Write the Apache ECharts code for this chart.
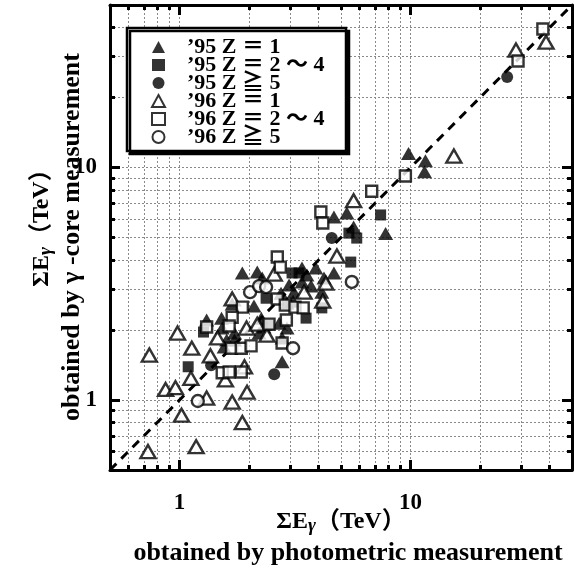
<!DOCTYPE html>
<html>
<head>
<meta charset="utf-8">
<script src="https://cdn.jsdelivr.net/npm/echarts@6/dist/echarts.min.js"></script>
<style>
html,body{margin:0;padding:0;background:#fff;}
#chart{width:574px;height:574px;}
</style>
</head>
<body>
<div id="chart"></div>
<script>
// grid / tick positions (log axes, both 0.5 .. 50)
const gridTicks = [0.6, 0.7, 0.8, 0.9, 1, 2, 3, 4, 5, 6, 7, 8, 9, 10, 20, 30, 40];
const majorTicks = [1, 10];
const tickLabels = [1, 10];
const diagonal = [[0.5, 0.5], [50, 50]];

// '95 Z = 1  (filled triangle)
const tri95 = [
  [9.8, 11.5], [11.6, 10.7], [11.5, 9.6], [7.8, 5.2], [4.66, 6.13], [5.3, 6.37], [5.67, 5.55],
  [1.87, 3.52], [2.17, 3.55], [2.28, 3.35], [3.89, 3.7], [4.66, 3.52], [2.98, 3.12], [3.13, 2.91],
  [3.39, 3.22], [3.71, 3.09], [2.75, 2.88], [4.22, 3.35], [4.13, 2.91], [1.69, 2.59], [2.1, 2.54],
  [1.52, 2.25], [1.31, 2.21], [1.53, 2.04], [1.73, 1.94], [2.26, 2.25], [2.32, 2.06], [2.21, 1.94],
  [2.7, 2.14], [2.92, 2.04], [1.6, 1.81], [1.73, 1.81], [1.56, 1.69], [2.78, 1.46], [3.39, 3.7],
  [3.56, 3.45], [2.92, 2.61], [3.1, 2.66], [2.78, 1.85]
];
// '95 Z = 2~4  (filled square)
const sq95 = [
  [7.42, 6.25], [5.41, 5.22], [5.85, 4.97], [5.51, 3.92], [3.07, 3.52], [3.29, 3.52], [2.37, 2.74],
  [3.53, 2.25], [4.13, 2.49], [1.27, 1.96], [1.09, 1.39], [2.44, 2.1]
];
// '95 Z >= 5  (filled circle)
const circ95 = [[26.2, 24.5], [4.56, 4.97], [1.37, 1.41], [2.57, 1.29]];
// '96 Z = 1  (open triangle)
const tri96 = [
  [38.6, 34.6], [28.6, 32.0], [15.4, 11.2], [5.67, 7.2], [4.8, 4.16], [2.57, 3.48], [4.3, 3.18],
  [3.46, 2.91], [4.17, 2.66], [1.69, 2.72], [1.95, 2.04], [2.17, 2.12], [2.39, 1.9], [0.98, 1.94],
  [1.46, 1.85], [1.13, 1.67], [0.74, 1.56], [1.36, 1.55], [1.12, 1.24], [0.87, 1.11], [0.96, 1.13],
  [1.31, 1.02], [1.69, 0.98], [1.96, 1.08], [1.87, 0.8], [1.02, 0.86], [1.18, 0.63], [0.73, 0.6],
  [1.91, 1.39], [1.58, 1.22]
];
// '96 Z = 2~4  (open square)
const sq96 = [
  [37.4, 39.4], [29.2, 28.7], [9.5, 9.2], [6.79, 7.9], [4.09, 6.44], [4.17, 5.77], [2.65, 4.12],
  [2.73, 3.73], [2.65, 2.72], [2.87, 2.56], [3.16, 2.51], [3.43, 2.49], [1.87, 2.51], [1.69, 2.27],
  [1.31, 2.06], [1.64, 2.08], [2.44, 2.12], [2.9, 2.21], [1.68, 1.67], [1.85, 1.67], [2.04, 1.71],
  [2.78, 1.76], [1.53, 1.31], [1.64, 1.32], [1.85, 1.32]
];
// '96 Z >= 5  (open circle)
const circ96 = [[2.02, 2.91], [2.21, 3.09], [2.37, 3.06], [5.57, 3.22], [3.1, 1.67], [1.2, 0.99]];

const seriesNames = ['’95 Z ＝ 1', '’95 Z ＝ 2 ～ 4', '’95 Z ≧ 5', '’96 Z ＝ 1', '’96 Z ＝ 2 ～ 4', '’96 Z ≧ 5'];

const serif = "'Liberation Serif', 'Noto Sans CJK JP', serif";

function scatter(name, data, symbol, size, filled) {
  return {
    name: name,
    type: 'scatter',
    data: data,
    symbol: symbol,
    symbolSize: size,
    itemStyle: filled ? { color: '#000' } : { color: '#fff', borderColor: '#000', borderWidth: 2.4 },
    emphasis: { disabled: true },
    z: 4
  };
}

function logAxis(kind, position, ticks, len, withLabels, withGrid, showLine) {
  const ax = {
    type: 'log',
    logBase: 10,
    min: 0.5,
    max: 50,
    position: position,
    axisLine: { show: showLine, onZero: false, lineStyle: { color: '#000', width: 3 } },
    axisTick: { show: true, inside: true, length: len, customValues: ticks, lineStyle: { color: '#000', width: 3 } },
    axisLabel: {
      show: withLabels,
      customValues: tickLabels,
      margin: kind === 'x' ? 22 : 13,
      color: '#000',
      fontFamily: serif,
      fontWeight: 'bold',
      fontSize: 23,
      formatter: v => String(Math.round(v))
    },
    splitLine: { show: withGrid, lineStyle: { color: '#8a8a8a', width: 1, type: [2, 2] } },
    minorTick: { show: false },
    minorSplitLine: { show: false }
  };
  return ax;
}

const chart = echarts.init(document.getElementById('chart'));
chart.setOption({
  backgroundColor: '#fff',
  animation: false,
  grid: { left: 110, right: 2, top: 5, bottom: 104, outerBoundsMode: 'none' },
  xAxis: [
    logAxis('x', 'bottom', gridTicks, 5, true, true, true),
    logAxis('x', 'top', gridTicks, 5, false, false, true),
    logAxis('x', 'bottom', majorTicks, 10, false, false, false),
    logAxis('x', 'top', majorTicks, 10, false, false, false)
  ],
  yAxis: [
    logAxis('y', 'left', gridTicks, 5, true, true, true),
    logAxis('y', 'right', gridTicks, 5, false, false, true),
    logAxis('y', 'left', majorTicks, 10, false, false, false),
    logAxis('y', 'right', majorTicks, 10, false, false, false)
  ],
  legend: {
    orient: 'vertical',
    left: 146,
    top: 31,
    itemWidth: 13,
    itemHeight: 12,
    itemGap: -4,
    selectedMode: false,
    z: 10,
    textStyle: { fontFamily: serif, fontWeight: 'bold', fontSize: 22, color: '#000', lineHeight: 16, padding: [0, 0, 0, 17] },
    data: seriesNames
  },
  graphic: [
    {
      type: 'rect', z: 5,
      shape: { x: 127, y: 28, width: 219, height: 123 },
      style: { fill: '#fff', stroke: '#000', lineWidth: 2.5, shadowColor: '#000', shadowOffsetX: 3, shadowOffsetY: 3, shadowBlur: 0 }
    },
    {
      type: 'text', z: 5, x: 341, y: 522,
      style: {
        text: '{a|ΣE}{s|γ}{a|（TeV）}', align: 'center', verticalAlign: 'middle',
        rich: {
          a: { fontFamily: serif, fontWeight: 'bold', fontSize: 24, fill: '#000' },
          s: { fontFamily: serif, fontWeight: 'bold', fontStyle: 'italic', fontSize: 19, fill: '#000', padding: [9, 0, 0, 0] }
        }
      }
    },
    {
      type: 'text', z: 5, x: 348, y: 553,
      style: { text: 'obtained by photometric measurement', align: 'center', verticalAlign: 'middle',
        fontFamily: serif, fontWeight: 'bold', fontSize: 26, fill: '#000' }
    },
    {
      type: 'text', z: 5, x: 42, y: 222, rotation: Math.PI / 2,
      style: {
        text: '{a|ΣE}{s|γ}{a|（TeV）}', align: 'center', verticalAlign: 'middle',
        rich: {
          a: { fontFamily: serif, fontWeight: 'bold', fontSize: 24, fill: '#000' },
          s: { fontFamily: serif, fontWeight: 'bold', fontStyle: 'italic', fontSize: 19, fill: '#000', padding: [9, 0, 0, 0] }
        }
      }
    },
    {
      type: 'text', z: 5, x: 72, y: 237, rotation: Math.PI / 2,
      style: { text: 'obtained by γ -core measurement', align: 'center', verticalAlign: 'middle',
        fontFamily: serif, fontWeight: 'bold', fontSize: 26, fill: '#000' }
    }
  ],
  series: [
    {
      name: 'diagonal',
      type: 'line',
      data: diagonal,
      symbol: 'none',
      silent: true,
      lineStyle: { color: '#000', width: 3, type: [9, 7] },
      z: 3
    },
    scatter(seriesNames[0], tri95, 'triangle', [15, 13], true),
    scatter(seriesNames[1], sq95, 'rect', 11, true),
    scatter(seriesNames[2], circ95, 'circle', 12, true),
    scatter(seriesNames[3], tri96, 'triangle', [15, 13], false),
    scatter(seriesNames[4], sq96, 'rect', 11, false),
    scatter(seriesNames[5], circ96, 'circle', 12, false)
  ]
});
</script>
</body>
</html>
